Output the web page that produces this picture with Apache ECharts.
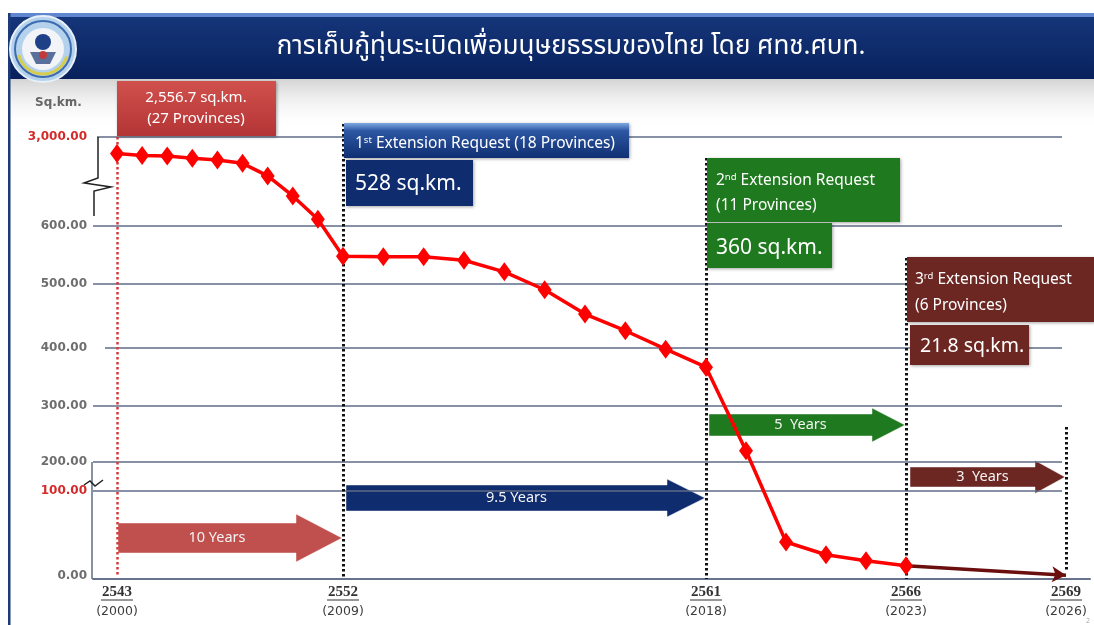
<!DOCTYPE html>
<html>
<head>
<meta charset="utf-8">
<script src="https://cdn.jsdelivr.net/npm/echarts@6/dist/echarts.min.js"></script>
<style>
  html, body { margin: 0; padding: 0; background: #fff; }
  #chart { width: 1094px; height: 625px; }
</style>
</head>
<body>
<div id="chart"></div>
<script>
// พื้นที่ที่เหลือ (ตร.กม.) ต่อปี พ.ศ.
const years = [2543, 2544, 2545, 2546, 2547, 2548, 2549, 2550, 2551, 2552, 2553, 2554,
  2555, 2556, 2557, 2558, 2559, 2560, 2561, 2562, 2563, 2564, 2565, 2566];
const areaSqKm = [2556.7, 2500, 2490, 2430, 2380, 2290, 1950, 1410, 780, 548, 547, 547,
  541, 521, 491, 453, 427, 398, 367, 220, 40, 25, 18, 12];

// แผนถึงปี 2569
const projYears = [2566, 2569];
const projArea = [12, 1];

// แกน
const yTickValues = [0, 100, 200, 300, 400, 500, 600, 3000];
const yTickLabels = ['0.00', '100.00', '200.00', '300.00', '400.00', '500.00', '600.00', '3,000.00'];
const xTickYears = [2543, 2552, 2561, 2566, 2569];
const xTickCE = ['(2000)', '(2009)', '(2018)', '(2023)', '(2026)'];

// the slide uses a broken, uneven scale on both axes: piecewise-linear maps to axis units
const yScaleRange = [3, 88, 117, 173, 231, 295, 353, 442];
const xScaleRange = [24, 250, 613, 813, 973];

function piecewise(domain, range, v) {
  for (let i = 0; i < domain.length - 1; i++) {
    if (v <= domain[i + 1] || i === domain.length - 2) {
      const t = (v - domain[i]) / (domain[i + 1] - domain[i]);
      return range[i] + t * (range[i + 1] - range[i]);
    }
  }
}
const xs = y => piecewise(xTickYears, xScaleRange, y);
const ys = v => piecewise(yTickValues, yScaleRange, v);

const FONT = '"Noto Sans", "DejaVu Sans", sans-serif';

const chart = echarts.init(document.getElementById('chart'));

const gridLines = yTickValues.slice(1).map(v => {
  const start = v === 400 ? 12 : (v === 3000 ? 4 : 0);
  return [{ coord: [start, ys(v)] }, { coord: [969, ys(v)] }];
});

function vline(year, top, bottom, color, width) {
  return [
    { coord: [xs(year), top], lineStyle: { color: color, width: width } },
    { coord: [xs(year), bottom] }
  ];
}

chart.setOption({
  animation: false,
  grid: { left: 93, right: 4, top: 100, bottom: 46 },
  xAxis: {
    type: 'value', min: 0, max: 997,
    splitLine: { show: false },
    axisTick: { show: false },
    axisLine: { show: true, lineStyle: { color: '#67738c', width: 2 } },
    axisLabel: {
      customValues: xScaleRange,
      margin: 3,
      formatter: v => {
        const i = xScaleRange.findIndex(u => Math.abs(u - v) < 0.01);
        return i < 0 ? '' : '{y|' + xTickYears[i] + '}\n{p|' + xTickCE[i] + '}';
      },
      rich: {
        y: { fontFamily: '"Liberation Serif", serif', fontWeight: 'bold', fontSize: 15, color: '#333', lineHeight: 20 },
        p: { fontFamily: '"DejaVu Sans", sans-serif', fontSize: 12.5, color: '#3c3c3c', lineHeight: 20 }
      }
    }
  },
  yAxis: {
    type: 'value', min: 0, max: 479,
    splitLine: { show: false },
    axisTick: { show: false },
    axisLine: { show: false },
    axisLabel: {
      customValues: yScaleRange,
      margin: 6,
      formatter: v => {
        const i = yScaleRange.findIndex(u => Math.abs(u - v) < 0.01);
        if (i < 0) return '';
        const red = yTickValues[i] === 3000 || yTickValues[i] === 100;
        return (red ? '{r|' : '{g|') + yTickLabels[i] + '}';
      },
      rich: {
        r: { fontFamily: '"DejaVu Sans", sans-serif', fontWeight: 'bold', fontSize: 12, color: '#d42a2a' },
        g: { fontFamily: '"DejaVu Sans", sans-serif', fontWeight: 'bold', fontSize: 12, color: '#6e6e6e' }
      }
    }
  },
  series: [
    {
      // gridlines
      type: 'line', data: [], silent: true, z: 1,
      markLine: {
        silent: true, symbol: ['none', 'none'], label: { show: false },
        lineStyle: { color: '#5f6b86', width: 1.5, type: 'solid' },
        data: gridLines
      }
    },
    {
      // dotted year markers
      type: 'line', data: [], silent: true, z: 2,
      markLine: {
        silent: true, symbol: ['none', 'none'], label: { show: false },
        lineStyle: { type: [2.5, 2.5], width: 3, color: '#111' },
        data: [
          vline(2543, 442, 4, '#d43a3a', 2.5),
          vline(2552, 455, 0, '#111', 3),
          vline(2561, 421, 0, '#111', 3),
          vline(2566, 321, 0, '#111', 3),
          vline(2569, 152, 7, '#111', 3)
        ]
      }
    },
    {
      // projection 2566 -> 2569
      type: 'line', data: [], silent: true, z: 4,
      markLine: {
        silent: true, symbol: ['none', 'arrow'], symbolSize: [12, 14], label: { show: false },
        lineStyle: { type: 'solid', width: 3.5, color: '#6b0e0e' },
        data: [[
          { coord: [xs(projYears[0]), ys(projArea[0])] },
          { coord: [xs(projYears[1]), ys(projArea[1])] }
        ]]
      }
    },
    {
      name: 'Area', type: 'line', z: 5,
      data: years.map((y, i) => [xs(y), ys(areaSqKm[i])]),
      symbol: 'diamond', symbolSize: [14, 19],
      itemStyle: { color: '#ff0000' },
      lineStyle: { color: '#ff0000', width: 3.5 }
    }
  ]
});

// ---- slide decorations and annotations ----
const px = y => chart.convertToPixel({ gridIndex: 0 }, [xs(y), 0])[0];
const g = [];

// background under the title
g.push({ type: 'rect', z: 0, shape: { x: 10, y: 78, width: 1084, height: 52 },
  style: { fill: new echarts.graphic.LinearGradient(0, 0, 0, 1, [
    { offset: 0, color: '#d2d2d2' }, { offset: 1, color: 'rgba(255,255,255,0)' }]) } });
// title bar
g.push({ type: 'rect', z: 20, shape: { x: 10, y: 13, width: 1084, height: 66 },
  style: { fill: new echarts.graphic.LinearGradient(0, 0, 0, 1, [
    { offset: 0, color: '#16377c' }, { offset: 1, color: '#08215c' }]) } });
g.push({ type: 'rect', z: 21, shape: { x: 10, y: 13, width: 1084, height: 4 }, style: { fill: '#5f86cf' } });
g.push({ type: 'rect', z: 21, shape: { x: 8, y: 13, width: 2.5, height: 612 }, style: { fill: '#1c3a78' } });
// emblem
g.push({ type: 'circle', z: 22, shape: { cx: 43, cy: 49, r: 33 }, style: { fill: '#b5d2ec', stroke: '#e8f0f8', lineWidth: 2 } });
g.push({ type: 'circle', z: 22, shape: { cx: 43, cy: 49, r: 28 }, style: { fill: 'none', stroke: '#3d6cb0', lineWidth: 2 } });
g.push({ type: 'arc', z: 22, shape: { cx: 43, cy: 49, r: 25, startAngle: 0.3, endAngle: 2.9 }, style: { fill: 'none', stroke: '#d6cc4e', lineWidth: 3 } });
g.push({ type: 'circle', z: 22, shape: { cx: 43, cy: 49, r: 21 }, style: { fill: '#f2f4f8' } });
g.push({ type: 'circle', z: 23, shape: { cx: 43, cy: 42, r: 8 }, style: { fill: '#1f3f86' } });
g.push({ type: 'polygon', z: 23, shape: { points: [[30, 52], [56, 52], [50, 64], [36, 64]] }, style: { fill: '#5a6f9c' } });
g.push({ type: 'circle', z: 23, shape: { cx: 43, cy: 55, r: 4 }, style: { fill: '#c23b3b' } });
// title
g.push({ type: 'text', z: 23, x: 571, y: 49, style: {
  text: 'การเก็บกู้ทุ่นระเบิดเพื่อมนุษยธรรมของไทย โดย ศทช.ศบท.',
  fill: '#fff', fontSize: 26, fontFamily: '"Noto Sans Thai", ' + FONT, align: 'center', verticalAlign: 'middle' } });
// unit
g.push({ type: 'text', z: 23, x: 35, y: 103, style: { text: 'Sq.km.', fill: '#666',
  fontSize: 12, fontWeight: 'bold', fontFamily: '"DejaVu Sans", sans-serif', verticalAlign: 'middle' } });

// axis breaks
g.push({ type: 'polyline', z: 6, shape: { points: [[98, 137], [98, 178], [84, 183], [111, 187], [94, 191], [94, 216]] },
  style: { stroke: '#222', lineWidth: 1.5, fill: 'none' } });
g.push({ type: 'polyline', z: 6, shape: { points: [[92, 462], [92, 579]] }, style: { stroke: '#5f6b86', lineWidth: 1.5 } });
g.push({ type: 'polyline', z: 7, shape: { points: [[84, 485], [90, 481], [95, 486], [103, 480]] },
  style: { stroke: '#222', lineWidth: 1.5, fill: 'none' } });

// underline the Buddhist-era years
xTickYears.forEach(y => {
  const x = px(y);
  g.push({ type: 'line', z: 6, shape: { x1: x - 16, y1: 600, x2: x + 16, y2: 600 }, style: { stroke: '#333', lineWidth: 1 } });
});

// block arrows
const arrows = [
  { from: 2543, to: 2552, off: 1, cy: 538, h: 30, H: 48, head: 46, fill: '#c0504d', text: '10 Years' },
  { from: 2552, to: 2561, off: 3, cy: 498, h: 26, H: 38, head: 38, fill: '#0f2c6e', text: '9.5 Years' },
  { from: 2561, to: 2566, off: 3, cy: 425, h: 22, H: 34, head: 33, fill: '#1f7a1f', text: '5  Years' },
  { from: 2566, to: 2569, off: 4, cy: 477, h: 20, H: 33, head: 30, fill: '#6c2723', text: '3  Years' }
];
arrows.forEach(a => {
  const x0 = px(a.from) + a.off, tip = px(a.to) - 1, xh = tip - a.head;
  g.push({ type: 'polygon', z: 1, shape: { points: [
    [x0, a.cy - a.h / 2], [xh, a.cy - a.h / 2], [xh, a.cy - a.H / 2], [tip, a.cy],
    [xh, a.cy + a.H / 2], [xh, a.cy + a.h / 2], [x0, a.cy + a.h / 2]] },
    style: { fill: a.fill, stroke: 'rgba(255,255,255,0.45)', lineWidth: 1 } });
  g.push({ type: 'text', z: 1, x: (x0 + xh) / 2 + 10, y: a.cy, style: { text: a.text, fill: '#f4f4f4',
    fontSize: 14.5, fontFamily: FONT, align: 'center', verticalAlign: 'middle' } });
});

// boxes
function box(x, y, w, h, fill) {
  g.push({ type: 'rect', z: 10, shape: { x: x, y: y, width: w, height: h },
    style: { fill: fill, shadowBlur: 3, shadowOffsetX: 1, shadowOffsetY: 1, shadowColor: 'rgba(0,0,0,0.35)' } });
}
function label(x, y, text, size, align, rich) {
  g.push({ type: 'text', z: 11, x: x, y: y, style: { text: text, fill: '#fff', fontSize: size,
    fontFamily: FONT, align: align || 'left', verticalAlign: 'middle', rich: rich } });
}
const supRich = {
  a: { fontSize: 15.5, fontFamily: FONT, fill: '#fff', lineHeight: 20, verticalAlign: 'middle' },
  s: { fontSize: 9.5, fontFamily: FONT, fill: '#fff', lineHeight: 20, verticalAlign: 'middle', padding: [0, 0, 8, 0] }
};

const x2543 = px(2543), x2552 = px(2552), x2561 = px(2561), x2566 = px(2566);
box(x2543, 81, 159, 55, new echarts.graphic.LinearGradient(0, 0, 0, 1, [
  { offset: 0, color: '#d0504d' }, { offset: 1, color: '#b43535' }]));
label(x2543 + 79, 98, '2,556.7 sq.km.', 15, 'center');
label(x2543 + 79, 119, '(27 Provinces)', 15, 'center');

box(x2552 + 1, 123, 285, 35, new echarts.graphic.LinearGradient(0, 0, 0, 1, [
  { offset: 0, color: '#7ea8e2' }, { offset: 0.22, color: '#2d57a3' }, { offset: 1, color: '#0f2f72' }]));
label(x2552 + 12, 144, '{a|1}{s|st}{a| Extension Request (18 Provinces)}', 15.5, 'left', supRich);
box(x2552 + 3, 160, 127, 46, '#0f2c6e');
label(x2552 + 12, 184, '528 sq.km.', 21);

box(x2561 + 1, 158, 193, 64, '#1f7a1f');
label(x2561 + 10, 181, '{a|2}{s|nd}{a| Extension Request}', 15.5, 'left', supRich);
label(x2561 + 10, 206, '(11 Provinces)', 15.5);
box(x2561 + 1, 223, 125, 45, '#1f7a1f');
label(x2561 + 10, 248, '360 sq.km.', 21);

box(x2566 + 1, 257, 187, 65, '#6c2723');
label(x2566 + 9, 280, '{a|3}{s|rd}{a| Extension Request}', 15.5, 'left', supRich);
label(x2566 + 9, 306, '(6 Provinces)', 15.5);
box(x2566 + 4, 325, 119, 40, '#6c2723');
label(x2566 + 14, 346, '21.8 sq.km.', 19.5);

g.push({ type: 'text', z: 5, x: 1086, y: 617, style: { text: '2', fill: '#aaa', fontSize: 7, fontFamily: FONT } });

chart.setOption({ graphic: g });
</script>
</body>
</html>
